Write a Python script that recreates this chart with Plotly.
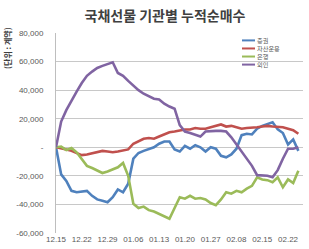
import plotly.graph_objects as go

# ---- data ----
x_labels = ["12.15", "12.22", "12.29", "01.06", "01.13", "01.20", "01.27", "02.08", "02.15", "02.22"]
series_names = ["증권", "자산운용", "은행", "외인"]

securities = [0, -19000, -23500, -30500, -31500, -31000, -30500, -34000, -36500, -37500,
              -38500, -35000, -29500, -31500, -25500, -8000, -4000, -2500, -1500, 0,
              2500, 4000, 4000, -1500, -3000, 1000, -1000, 1500, 0, -3000,
              0, -1000, -6000, -7000, -5000, -1000, 8500, 9500, 9000, 13000,
              15000, 16000, 17500, 12500, 10000, 2000, 5500, -2500]
asset_mgmt = [0, -500, -1500, -2500, -4000, -5500, -5000, -4000, -3000, -2500,
              -3000, -3500, -3000, -2500, -1500, 2500, 4500, 6000, 6500, 6000,
              7500, 9000, 10500, 11000, 12000, 12500, 12500, 13500, 13000, 13000,
              14000, 15000, 16000, 14500, 15000, 14000, 13000, 13500, 13500, 14000,
              14500, 15000, 14500, 14500, 14000, 13000, 12000, 9500]
banks = [0, 500, -2000, -500, -3500, -8000, -13000, -14500, -16500, -18000,
         -17000, -15500, -14000, -11000, -20000, -39500, -42500, -41500, -44000, -45000,
         -46500, -48500, -50000, -42500, -35000, -36000, -34000, -36000, -35500, -36500,
         -39000, -40500, -36500, -31500, -32500, -30500, -31500, -29000, -27000, -21000,
         -22500, -23000, -24500, -21000, -28000, -22500, -25000, -16500]
foreign = [0, 18000, 26000, 33000, 39000, 45000, 50000, 53000, 55500, 57000,
           58500, 59500, 52000, 50000, 46500, 43000, 40000, 37500, 35500, 34000,
           33500, 30500, 28500, 27000, 15500, 11000, 10000, 9000, 7500, 11000,
           11500, 11500, 11500, 11000, 7000, 2000, -3000, -8000, -13000, -19500,
           -19800, -19900, -21000, -16000, -8000, -1000, -1000, 0]

y_ticks = [-60000, -40000, -20000, 0, 20000, 40000, 60000, 80000]

colors = ["#4F81BD", "#C0504D", "#9BBB59", "#8064A2"]
all_series = [securities, asset_mgmt, banks, foreign]

n = len(securities)
xs = list(range(n))

fig = go.Figure()
for name, vals, col in zip(series_names, all_series, colors):
    fig.add_trace(go.Scatter(x=xs, y=vals, mode="lines", name=name,
                             line=dict(color=col, width=2.6), showlegend=False))

y_text = ["-" if v == 0 else ("-" if v < 0 else "") + f"{abs(v):,}" for v in y_ticks]

fig.update_layout(
    width=309, height=249,
    margin=dict(l=56, r=6, t=33, b=16),
    paper_bgcolor="white", plot_bgcolor="white",
    font=dict(family="Noto Sans CJK KR", size=8, color="#595959"),
    title=dict(text="<b>국채선물 기관별 누적순매수</b>", x=0.534, xanchor="center",
               y=1 - 16 / 249, yanchor="middle", yref="container",
               font=dict(family="Noto Sans CJK KR", size=14, color="#404040")),
    xaxis=dict(range=[0, 47.9], tickmode="array",
               tickvals=[i * 5 for i in range(len(x_labels))], ticktext=x_labels,
               showgrid=False, zeroline=False, showline=False, ticks="",
               tickfont=dict(family="Liberation Sans", size=8, color="#595959")),
    yaxis=dict(range=[-60000, 80000], tickmode="array", tickvals=y_ticks, ticktext=y_text,
               showgrid=True, gridcolor="#C8C8C8", gridwidth=1,
               zeroline=False, showline=True, linecolor="#BEBEBE", linewidth=1,
               ticks="", ticklabelstandoff=10,
               tickfont=dict(family="Liberation Sans", size=8, color="#595959")),
)

# y-axis unit label
fig.add_annotation(text="<b>(단위 : 계약)</b>", textangle=-90, xref="paper", yref="paper",
                   x=(8 - 56) / 247, y=1 - 15 / 200, xanchor="center", yanchor="middle",
                   showarrow=False, font=dict(family="Noto Sans CJK KR", size=8, color="#404040"))

# manual compact legend: one text block, line samples aligned to its rows
leg_font = 6.2
row_h = leg_font * 1.3
center_px = 52.5
k = len(series_names)
for i, (name, col) in enumerate(zip(series_names, colors)):
    ypx = center_px + (i - (k - 1) / 2) * row_h
    yp = (233 - ypx) / 200
    fig.add_shape(type="line", xref="paper", yref="paper",
                  x0=(242 - 56) / 247, x1=(255 - 56) / 247, y0=yp, y1=yp,
                  line=dict(color=col, width=2))
fig.add_annotation(text="<br>".join(series_names), xref="paper", yref="paper",
                   x=(256 - 56) / 247, y=(233 - center_px) / 200, align="left",
                   xanchor="left", yanchor="middle", showarrow=False, borderpad=0,
                   font=dict(family="Noto Sans CJK KR", size=leg_font, color="#595959"))

fig.write_html("out.html")
